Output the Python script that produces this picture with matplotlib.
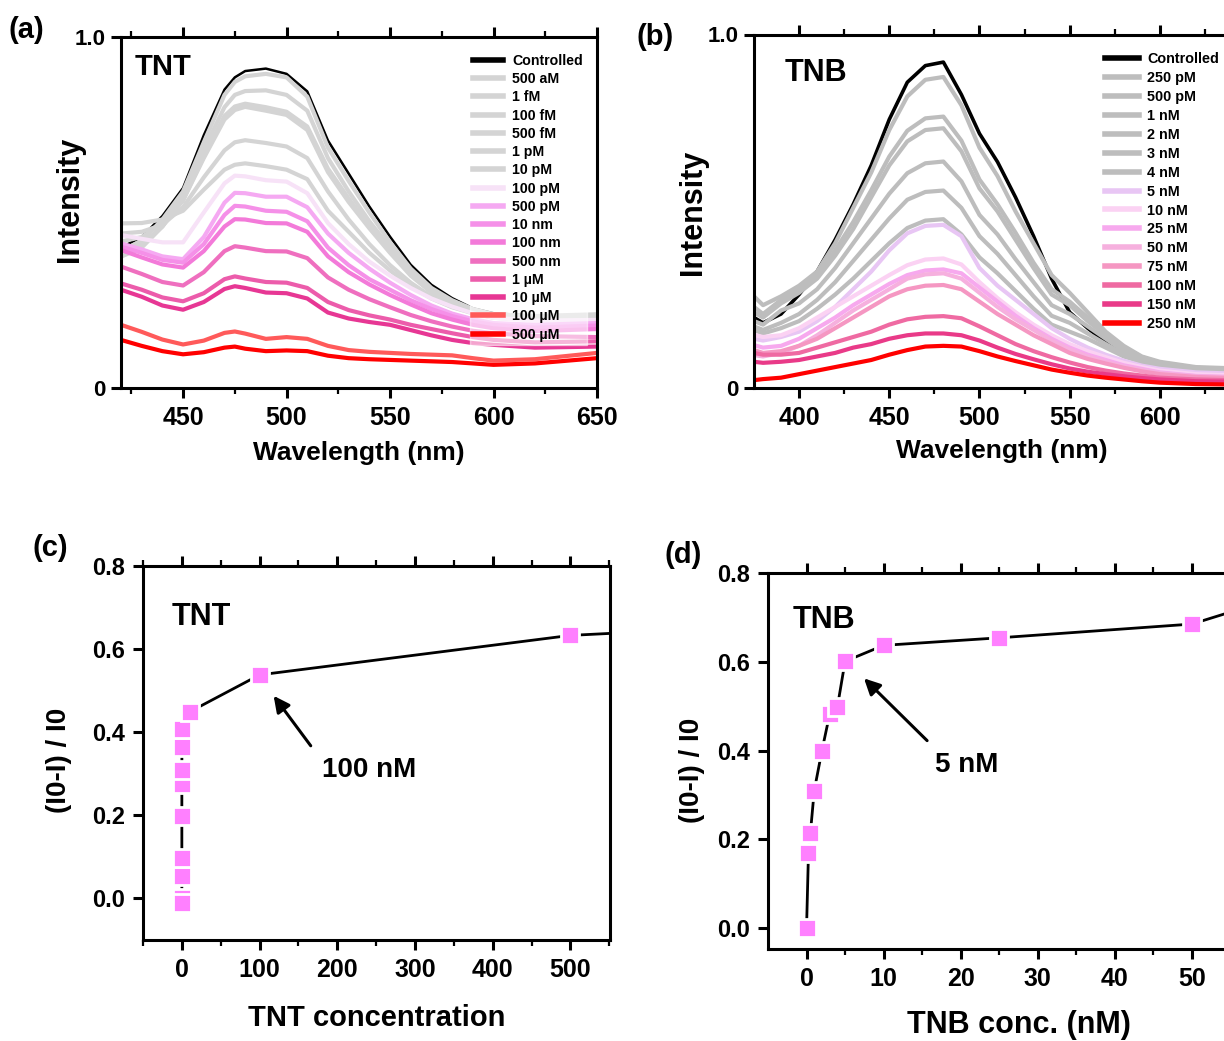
import matplotlib
matplotlib.use("Agg")
import matplotlib.pyplot as plt
from matplotlib.ticker import MultipleLocator, FixedLocator, FormatStrFormatter

plt.rcParams['font.family'] = ['Liberation Sans', 'DejaVu Sans']
plt.rcParams['font.weight'] = 'bold'
plt.rcParams['axes.labelweight'] = 'bold'

# ---------------- data: panel (a) TNT spectra ----------------
wl_tnt = [420, 430, 440, 450, 460, 470, 475, 480, 490, 500, 510, 520, 530, 540,
          550, 560, 570, 580, 590, 600, 620, 650]
tnt_labels = ['Controlled', '500 aM', '1 fM', '100 fM', '500 fM', '1 pM', '10 pM',
              '100 pM', '500 pM', '10 nm', '100 nm', '500 nm', '1 µM', '10 µM',
              '100 µM', '500 µM']
tnt_colors = ['#000000', '#d4d4d4', '#d4d4d4', '#d4d4d4', '#d4d4d4', '#d4d4d4', '#d4d4d4',
              '#f7e2f7', '#f5a9f2', '#f590e8', '#f37ad9', '#ef6fbf', '#ec5cab', '#e73794',
              '#ff5a5a', '#ff0000']
tnt_ctrl   = [.40, .43, .49, .57, .72, .85, .885, .903, .91, .895, .845, .705, .611, .517, .431, .351, .294, .256, .227, .213, .205, .21]
tnt_500aM  = [.39, .42, .48, .56, .70, .835, .872, .888, .895, .885, .83, .685, .59, .50, .415, .34, .285, .25, .225, .21, .205, .21]
tnt_1fM    = [.374, .40, .46, .545, .68, .80, .835, .846, .848, .835, .79, .655, .56, .475, .40, .33, .28, .245, .222, .208, .203, .208]
tnt_100fM  = [.393, .41, .46, .535, .66, .775, .802, .81, .80, .787, .745, .625, .54, .46, .39, .325, .275, .24, .22, .205, .20, .205]
tnt_500fM  = [.417, .43, .47, .535, .655, .765, .792, .801, .79, .778, .735, .615, .53, .455, .385, .32, .272, .238, .218, .203, .198, .203]
tnt_1pM    = [.44, .445, .465, .515, .60, .677, .70, .706, .698, .688, .655, .56, .48, .41, .35, .30, .26, .232, .215, .20, .195, .20]
tnt_10pM   = [.469, .47, .48, .505, .565, .622, .636, .64, .632, .622, .595, .505, .445, .385, .335, .29, .255, .23, .213, .20, .195, .202]
tnt_100pM  = [.436, .425, .415, .415, .50, .583, .605, .603, .592, .588, .555, .47, .41, .36, .32, .285, .255, .232, .213, .20, .192, .194]
tnt_500pM  = [.412, .395, .375, .367, .43, .528, .556, .555, .545, .545, .515, .44, .385, .34, .30, .265, .235, .212, .196, .185, .18, .185]
tnt_10nM   = [.403, .385, .365, .357, .41, .493, .519, .517, .505, .502, .475, .40, .35, .31, .28, .25, .225, .205, .19, .18, .172, .178]
tnt_100nM  = [.393, .372, .352, .343, .39, .46, .481, .48, .47, .469, .445, .375, .33, .295, .265, .238, .213, .195, .18, .17, .162, .168]
tnt_500nM  = [.346, .325, .302, .292, .33, .39, .404, .40, .39, .389, .37, .315, .28, .253, .23, .208, .19, .175, .163, .156, .148, .145]
tnt_1uM    = [.298, .28, .258, .247, .27, .31, .318, .312, .302, .30, .285, .245, .222, .207, .195, .18, .168, .156, .145, .137, .13, .133]
tnt_10uM   = [.28, .26, .235, .223, .245, .282, .29, .285, .272, .27, .255, .215, .198, .188, .18, .165, .15, .137, .128, .123, .115, .118]
tnt_100uM  = [.18, .16, .138, .124, .135, .157, .161, .155, .14, .145, .14, .12, .108, .103, .10, .097, .095, .093, .085, .078, .082, .10]
tnt_500uM  = [.137, .12, .105, .096, .102, .115, .118, .112, .105, .107, .105, .092, .085, .082, .08, .078, .076, .074, .07, .066, .07, .085]
tnt_spectra = [tnt_ctrl, tnt_500aM, tnt_1fM, tnt_100fM, tnt_500fM, tnt_1pM, tnt_10pM,
               tnt_100pM, tnt_500pM, tnt_10nM, tnt_100nM, tnt_500nM, tnt_1uM, tnt_10uM,
               tnt_100uM, tnt_500uM]

# ---------------- data: panel (b) TNB spectra ----------------
wl_tnb = [375, 380, 390, 400, 410, 420, 430, 440, 450, 460, 470, 480, 490, 500, 510,
          520, 530, 540, 550, 560, 570, 580, 590, 600, 620, 650]
tnb_labels = ['Controlled', '250 pM', '500 pM', '1 nM', '2 nM', '3 nM', '4 nM', '5 nM',
              '10 nM', '25 nM', '50 nM', '75 nM', '100 nM', '150 nM', '250 nM']
tnb_colors = ['#000000', '#bdbdbd', '#bdbdbd', '#bdbdbd', '#bdbdbd', '#bdbdbd', '#bdbdbd',
              '#e8c6f4', '#fbd2f3', '#f7a9ee', '#f6b0de', '#f597c2', '#ef6aa2', '#e93a88',
              '#ff0000']
tnb_ctrl  = [.20, .185, .21, .265, .33, .42, .52, .63, .76, .865, .912, .922, .83, .72, .64, .54, .43, .31, .215, .17, .13, .10, .075, .062, .052, .048]
tnb_250pM = [.26, .235, .26, .29, .33, .41, .51, .61, .73, .825, .872, .88, .80, .68, .60, .50, .41, .32, .27, .215, .16, .12, .09, .075, .06, .055]
tnb_500pM = [.23, .21, .25, .28, .32, .39, .47, .56, .655, .728, .763, .768, .70, .59, .52, .44, .355, .28, .245, .20, .155, .115, .088, .072, .058, .053]
tnb_1nM   = [.215, .20, .24, .27, .31, .375, .45, .54, .63, .698, .73, .735, .67, .565, .50, .42, .34, .265, .235, .19, .15, .112, .086, .07, .057, .052]
tnb_2nM   = [.19, .18, .22, .24, .28, .34, .41, .48, .55, .608, .636, .641, .585, .49, .435, .365, .30, .235, .21, .175, .14, .105, .083, .068, .056, .051]
tnb_3nM   = [.175, .165, .185, .21, .25, .30, .36, .42, .48, .533, .555, .559, .51, .43, .38, .32, .26, .205, .185, .155, .125, .097, .078, .065, .055, .05]
tnb_4nM   = [.165, .155, .17, .19, .225, .265, .31, .36, .41, .453, .474, .478, .435, .37, .325, .275, .225, .18, .16, .14, .115, .09, .074, .062, .054, .05]
tnb_5nM   = [.14, .135, .145, .16, .19, .23, .28, .33, .39, .438, .459, .462, .43, .34, .29, .25, .21, .17, .14, .115, .095, .078, .064, .055, .045, .04]
tnb_10nM  = [.151, .145, .15, .17, .20, .23, .26, .29, .32, .348, .364, .367, .35, .30, .255, .215, .18, .15, .125, .105, .088, .072, .06, .05, .04, .035]
tnb_25nM  = [.122, .115, .12, .14, .17, .20, .235, .265, .295, .32, .333, .336, .325, .285, .245, .205, .17, .14, .115, .095, .08, .065, .055, .045, .035, .03]
tnb_50nM  = [.094, .09, .10, .12, .15, .185, .22, .25, .28, .31, .322, .325, .31, .27, .23, .195, .165, .135, .11, .09, .075, .062, .052, .043, .034, .03]
tnb_75nM  = [.108, .10, .105, .12, .14, .17, .20, .23, .26, .28, .29, .292, .28, .245, .21, .18, .15, .125, .10, .083, .07, .058, .048, .04, .032, .027]
tnb_100nM = [.10, .095, .095, .10, .115, .13, .145, .16, .18, .195, .202, .204, .198, .175, .15, .125, .105, .088, .073, .06, .05, .042, .036, .03, .025, .022]
tnb_150nM = [.075, .072, .075, .08, .09, .10, .115, .125, .14, .15, .155, .155, .15, .135, .115, .097, .082, .068, .056, .047, .04, .034, .029, .025, .02, .018]
tnb_250nM = [.023, .026, .03, .04, .05, .06, .07, .08, .095, .108, .118, .12, .118, .105, .09, .077, .065, .053, .044, .036, .03, .025, .02, .016, .012, .01]
tnb_spectra = [tnb_ctrl, tnb_250pM, tnb_500pM, tnb_1nM, tnb_2nM, tnb_3nM, tnb_4nM, tnb_5nM,
               tnb_10nM, tnb_25nM, tnb_50nM, tnb_75nM, tnb_100nM, tnb_150nM, tnb_250nM]

# ---------------- data: panel (c) TNT quenching ----------------
tnt_conc = [0, 5e-7, 1e-6, 1e-4, 5e-4, 1e-3, 0.01, 0.1, 0.5, 10, 100, 500, 1000]
tnt_quench = [0.0, -0.01, 0.054, 0.097, 0.198, 0.275, 0.309, 0.364, 0.408, 0.449, 0.538, 0.633, 0.68]

# ---------------- data: panel (d) TNB quenching ----------------
tnb_conc = [0, 0.25, 0.5, 1, 2, 3, 4, 5, 10, 25, 50, 75]
tnb_quench = [0.0, 0.169, 0.214, 0.31, 0.40, 0.482, 0.498, 0.601, 0.637, 0.654, 0.685, 0.82]

W, H = 1224, 1041
fig = plt.figure(figsize=(W / 100, H / 100), dpi=100)


def px_axes(left, top, right, bottom):
    return fig.add_axes([left / W, 1 - bottom / H, (right - left) / W, (bottom - top) / H])


def style(ax, major_len=7, minor_len=4):
    for s in ax.spines.values():
        s.set_linewidth(2.2)
    ax.tick_params(which='major', direction='out', length=major_len, width=2.2,
                   top=True, right=False)
    ax.tick_params(which='minor', direction='out', length=minor_len, width=1.6,
                   top=True, right=False)
    ax.tick_params(axis='x', which='both', top=True, labeltop=False)


mark_color = '#ff80ff'

# ---------------- (a) ----------------
axa = px_axes(121, 37, 597, 388)
for y, c, lab in zip(tnt_spectra, tnt_colors, tnt_labels):
    lw = 1.8 if c == '#000000' else 3.0
    axa.plot(wl_tnt, y, color=c, lw=lw, label=lab, solid_joinstyle='round')
axa.set_xlim(420, 650)
axa.set_ylim(0, 1.0)
axa.xaxis.set_major_locator(MultipleLocator(50))
axa.xaxis.set_minor_locator(FixedLocator([425, 475, 525, 575, 625]))
axa.set_yticks([0, 1.0])
axa.set_yticklabels(['0', '1.0'])
style(axa)
axa.tick_params(axis='x', labelsize=18, pad=6)
axa.tick_params(axis='y', labelsize=16, pad=4)
axa.set_xlabel('Wavelength (nm)', fontsize=19, labelpad=8)
axa.set_ylabel('Intensity', fontsize=22)
axa.yaxis.set_label_coords(-0.076, 0.536)
axa.text(0.029, 0.915, 'TNT', transform=axa.transAxes, fontsize=21, fontweight='bold',
         va='center', ha='left')
leg = axa.legend(loc='upper left', bbox_to_anchor=(0.733, 0.962), fontsize=10.2,
                 frameon=True, framealpha=0.55, facecolor='white', edgecolor='white',
                 handlelength=2.1, handletextpad=0.65, labelspacing=0.30,
                 borderpad=0.25, borderaxespad=0, fancybox=False)
for t in leg.get_texts():
    t.set_fontweight('bold')
for h in leg.get_lines():
    h.set_linewidth(4)

# ---------------- (b) ----------------
axb = px_axes(754, 34.5, 1250, 388.3)
for y, c, lab in zip(tnb_spectra, tnb_colors, tnb_labels):
    lw = 2.6 if c == '#000000' else 3.0
    axb.plot(wl_tnb, y, color=c, lw=lw, label=lab, solid_joinstyle='round')
axb.set_xlim(375, 650)
axb.set_ylim(0, 1.0)
axb.xaxis.set_major_locator(FixedLocator([400, 450, 500, 550, 600]))
axb.xaxis.set_minor_locator(FixedLocator([425, 475, 525, 575, 625]))
axb.set_yticks([0, 1.0])
axb.set_yticklabels(['0', '1.0'])
style(axb)
axb.tick_params(axis='x', labelsize=18, pad=6)
axb.tick_params(axis='y', labelsize=16, pad=4)
axb.set_xlabel('Wavelength (nm)', fontsize=19, labelpad=6)
axb.set_ylabel('Intensity', fontsize=22)
axb.yaxis.set_label_coords(-0.093, 0.498)
axb.text(0.0625, 0.891, 'TNB', transform=axb.transAxes, fontsize=22, fontweight='bold',
         va='center', ha='left')
legb = axb.legend(loc='upper left', bbox_to_anchor=(0.700, 0.96), fontsize=10.4,
                  frameon=False, handlelength=2.4, handletextpad=0.55, labelspacing=0.34,
                  borderpad=0.25, borderaxespad=0)
for t in legb.get_texts():
    t.set_fontweight('bold')
for h in legb.get_lines():
    h.set_linewidth(4)

# ---------------- (c) ----------------
axc = px_axes(143, 566, 610, 940)
axc.plot(tnt_conc, tnt_quench, color='black', lw=2.0, marker='s', markersize=13,
         markerfacecolor=mark_color, markeredgecolor='white', markeredgewidth=2.0)
axc.set_xlim(-50, 551)
axc.set_ylim(-0.1, 0.8)
axc.xaxis.set_major_locator(MultipleLocator(100))
axc.xaxis.set_minor_locator(MultipleLocator(50))
axc.yaxis.set_major_locator(MultipleLocator(0.2))
axc.yaxis.set_major_formatter(FormatStrFormatter('%.1f'))
style(axc)
axc.tick_params(axis='x', labelsize=18, pad=6)
axc.tick_params(axis='y', labelsize=17, pad=6)
axc.set_xlabel('TNT concentration', fontsize=21, labelpad=16)
axc.set_ylabel('(I0-I) / I0', fontsize=20)
axc.yaxis.set_label_coords(-0.152, 0.479)
axc.text(0.062, 0.864, 'TNT', transform=axc.transAxes, fontsize=22, fontweight='bold',
         va='center', ha='left')
axc.annotate('', xy=(116, 0.493), xytext=(168, 0.362),
             arrowprops=dict(arrowstyle='-|>', color='black', lw=2.2, mutation_scale=24))
axc.text(181, 0.308, '100 nM', fontsize=20, fontweight='bold', va='center', ha='left')

# ---------------- (d) ----------------
axd = px_axes(768, 573, 1269, 949)
axd.plot(tnb_conc, tnb_quench, color='black', lw=2.0, marker='s', markersize=13,
         markerfacecolor=mark_color, markeredgecolor='white', markeredgewidth=2.0)
axd.set_xlim(-5, 60)
axd.set_ylim(-0.047, 0.8)
axd.xaxis.set_major_locator(FixedLocator([0, 10, 20, 30, 40, 50]))
axd.xaxis.set_minor_locator(FixedLocator([5, 15, 25, 35, 45, 55]))
axd.yaxis.set_major_locator(MultipleLocator(0.2))
axd.yaxis.set_major_formatter(FormatStrFormatter('%.1f'))
style(axd)
axd.tick_params(axis='x', labelsize=18, pad=6)
axd.tick_params(axis='y', labelsize=17, pad=6)
axd.set_xlabel('TNB conc. (nM)', fontsize=22, labelpad=14)
axd.set_ylabel('(I0-I) / I0', fontsize=20)
axd.yaxis.set_label_coords(-0.126, 0.476)
axd.text(0.05, 0.875, 'TNB', transform=axd.transAxes, fontsize=22, fontweight='bold',
         va='center', ha='left')
axd.annotate('', xy=(7.2, 0.567), xytext=(15.9, 0.418),
             arrowprops=dict(arrowstyle='-|>', color='black', lw=2.2, mutation_scale=24))
axd.text(16.7, 0.368, '5 nM', fontsize=20, fontweight='bold', va='center', ha='left')

# panel letters
fig.text(8 / W, 1 - 30 / H, '(a)', fontsize=21, fontweight='bold', va='center', ha='left')
fig.text(636 / W, 1 - 37 / H, '(b)', fontsize=21, fontweight='bold', va='center', ha='left')
fig.text(33 / W, 1 - 548 / H, '(c)', fontsize=21, fontweight='bold', va='center', ha='left')
fig.text(664 / W, 1 - 555 / H, '(d)', fontsize=21, fontweight='bold', va='center', ha='left')

fig.savefig('out.png', dpi=100)
